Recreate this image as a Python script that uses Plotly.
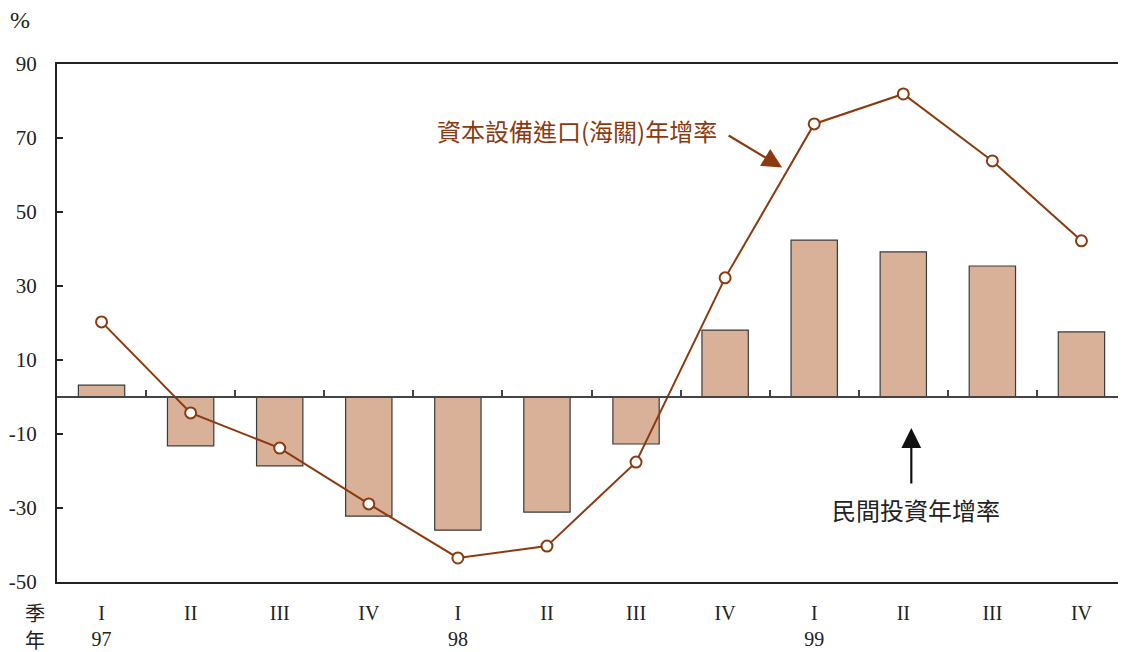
import plotly.graph_objects as go

quarters = ["I", "II", "III", "IV", "I", "II", "III", "IV", "I", "II", "III", "IV"]
years = ["97", "", "", "", "98", "", "", "", "99", "", "", ""]
private_invest = [3.2, -13.2, -18.6, -32.2, -36.0, -31.1, -12.7, 18.1, 42.4, 39.2, 35.4, 17.6]
capital_imports = [20.3, -4.3, -13.8, -28.9, -43.5, -40.3, -17.6, 32.2, 73.8, 81.9, 63.8, 42.2]
y_ticks = [-50, -30, -10, 10, 30, 50, 70, 90]

xs = list(range(len(quarters)))
ticktext = [q + "<br>" + y if y else q + "<br> " for q, y in zip(quarters, years)]
y_ticktext = [str(v) for v in y_ticks]

BROWN = "#8b3a0f"
SERIF = "Liberation Serif, Times New Roman, serif"
CJK = "Noto Sans CJK TC"

fig = go.Figure()
fig.add_trace(go.Bar(
    x=xs, y=private_invest, width=0.52,
    marker=dict(color="#d9b199", line=dict(color="#3a3a3a", width=1.2)),
    showlegend=False, hoverinfo="skip"))
fig.add_trace(go.Scatter(
    x=xs, y=capital_imports, mode="lines+markers",
    line=dict(color=BROWN, width=2),
    marker=dict(symbol="circle", size=11, color="white", line=dict(color=BROWN, width=2)),
    showlegend=False, hoverinfo="skip"))
# invisible trace so the zero-level axis renders
fig.add_trace(go.Scatter(x=[0], y=[0], xaxis="x2", mode="markers",
                         marker=dict(opacity=0), showlegend=False, hoverinfo="skip"))

fig.update_layout(
    width=1118, height=644,
    margin=dict(l=49, r=0, t=56, b=70, autoexpand=False),
    paper_bgcolor="white", plot_bgcolor="white",
    font=dict(family=SERIF, size=20, color="#222"),
    xaxis=dict(range=[-0.5, 11.5], tickvals=xs, ticktext=ticktext,
               showline=True, linecolor="#222", linewidth=2, mirror=True,
               ticks="", showgrid=False, zeroline=False, automargin=False,
               ticklabelstandoff=12,
               tickfont=dict(family=SERIF, size=20, color="#222")),
    xaxis2=dict(range=[-0.5, 11.5], overlaying="x", anchor="free",
                position=50 / 140, side="bottom", automargin=False,
                showline=True, linecolor="#444", linewidth=1.5,
                ticks="inside", ticklen=6, tickwidth=1.5, tickcolor="#444",
                tickvals=[i + 0.5 for i in range(11)],
                showticklabels=False, showgrid=False, zeroline=False),
    yaxis=dict(range=[-50, 90], tickvals=y_ticks, ticktext=y_ticktext,
               showline=True, linecolor="#222",
               linewidth=2, ticks="inside", ticklen=6, tickwidth=1.5, tickcolor="#222",
               showgrid=False, zeroline=False, ticklabelstandoff=14, automargin=False,
               tickfont=dict(family=SERIF, size=21, color="#222")),
    bargap=0.48,
)

fig.add_annotation(text="%", xref="paper", yref="paper", x=-0.0346, y=1.085,
                   xanchor="center", yanchor="middle",
                   showarrow=False, font=dict(family=SERIF, size=24, color="#222"))
fig.add_annotation(text="季", xref="paper", yref="paper", x=-0.0206, y=-0.057,
                   xanchor="center", yanchor="middle", height=24,
                   showarrow=False, font=dict(family=CJK, size=20, color="#222"))
fig.add_annotation(text="年", xref="paper", yref="paper", x=-0.0206, y=-0.110,
                   xanchor="center", yanchor="middle", height=24,
                   showarrow=False, font=dict(family=CJK, size=20, color="#222"))

fig.add_annotation(text="資本設備進口(海關)年增率", x=5.34, y=72, xref="x", yref="y",
                   showarrow=False, font=dict(family=CJK, size=24, color=BROWN))
fig.add_annotation(text="", x=7.64, y=62, xref="x", yref="y", ax=-55, ay=-33,
                   showarrow=True, arrowhead=2, arrowsize=1.8, arrowwidth=2.2,
                   arrowcolor=BROWN)

fig.add_annotation(text="民間投資年增率", x=9.14, y=-30.5, xref="x", yref="y",
                   showarrow=False, font=dict(family=CJK, size=24, color="#222"))
fig.add_annotation(text="", x=9.09, y=-8.4, xref="x", yref="y", ax=0, ay=57,
                   showarrow=True, arrowhead=2, arrowsize=1.8, arrowwidth=2.2,
                   arrowcolor="#111")

fig.write_html("out.html")
